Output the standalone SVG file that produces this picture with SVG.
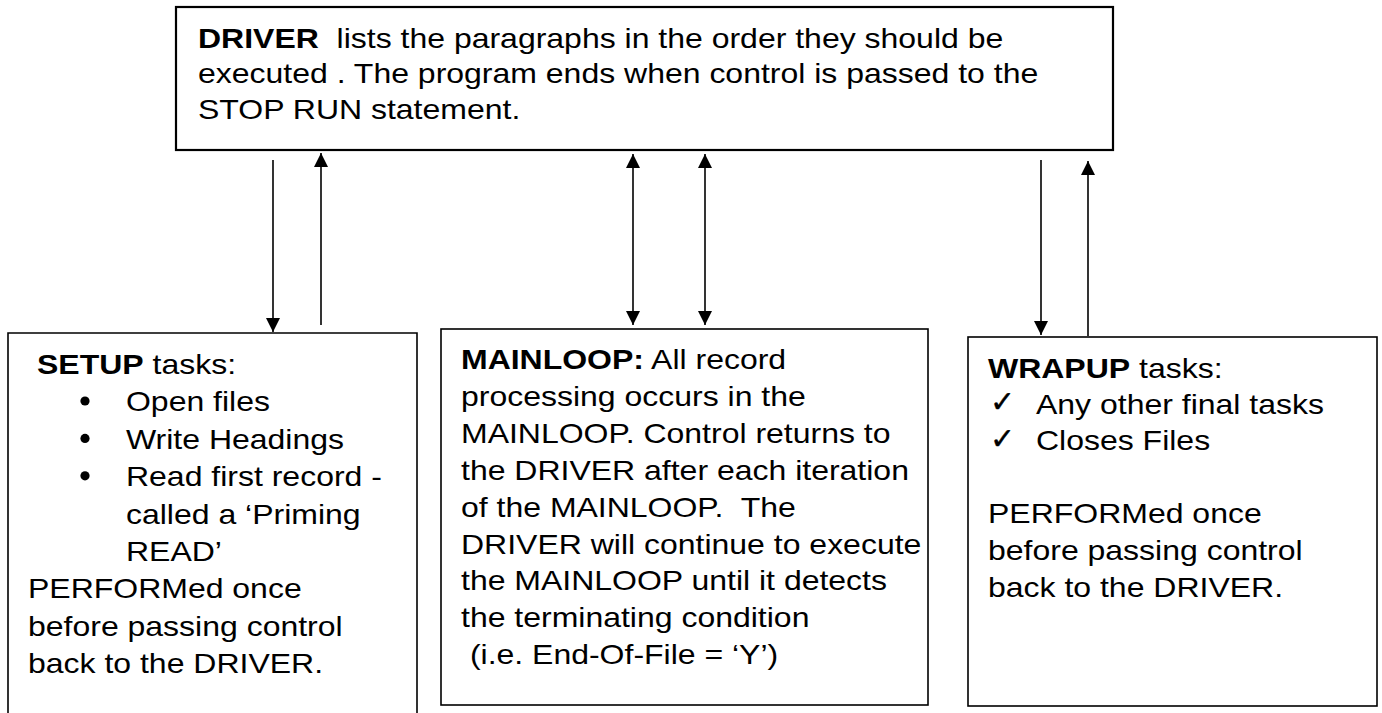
<svg xmlns="http://www.w3.org/2000/svg" width="1382" height="713" viewBox="0 0 1382 713">
  <style>
    .box { fill: #ffffff; stroke: #000000; stroke-width: 1.6; }
    .drv { stroke-width: 2.2; }
    .open { fill: none; stroke: #000000; stroke-width: 1.6; }
    .t { font-family: "Liberation Sans", Arial, sans-serif; font-size: 28px; fill: #000000; white-space: pre; }
    .b { font-weight: bold; }
    .chk { font-family: "DejaVu Sans", sans-serif; font-size: 30px; fill: #000000; stroke: #000000; stroke-width: 0.4; }
    .link { stroke: #000000; stroke-width: 1.6; fill: none; }
  </style>
  <defs>
    <marker id="head" viewBox="0 0 14 14" refX="14" refY="7" markerWidth="14" markerHeight="14" markerUnits="userSpaceOnUse" orient="auto-start-reverse">
      <path d="M0,0 L14,7 L0,14 Z" fill="#000000"/>
    </marker>
  </defs>
  <rect width="1382" height="713" fill="#ffffff"/>

  <!-- DRIVER paragraph; text uses a widened face (x scaled by 8/7) -->
  <g id="driver">
    <rect class="box drv" x="176" y="7" width="937" height="143"/>
    <g transform="scale(1.142857,1)">
      <text class="t" x="173.25" y="48"><tspan class="b">DRIVER</tspan>  lists the paragraphs in the order they should be</text>
      <text class="t" x="173.25" y="83.5">executed . The program ends when control is passed to the</text>
      <text class="t" x="173.25" y="119">STOP RUN statement.</text>
    </g>
  </g>

  <!-- SETUP paragraph (box runs off the bottom edge) -->
  <g id="setup">
    <path class="open" d="M8,713 V333 H417 V713"/>
    <circle cx="85" cy="401" r="4.6"/>
    <circle cx="85" cy="438.4" r="4.6"/>
    <circle cx="85" cy="475.8" r="4.6"/>
    <g transform="scale(1.142857,1)">
      <text class="t" x="32.375" y="374"><tspan class="b">SETUP</tspan> tasks:</text>
      <text class="t" x="110.25" y="411.4">Open files</text>
      <text class="t" x="110.25" y="448.8">Write Headings</text>
      <text class="t" x="110.25" y="486.2">Read first record -</text>
      <text class="t" x="110.25" y="523.6">called a ‘Priming</text>
      <text class="t" x="110.25" y="561">READ’</text>
      <text class="t" x="24.5" y="598.4">PERFORMed once</text>
      <text class="t" x="24.5" y="635.8">before passing control</text>
      <text class="t" x="24.5" y="673.2">back to the DRIVER.</text>
    </g>
  </g>

  <!-- MAINLOOP paragraph -->
  <g id="mainloop">
    <rect class="box" x="441" y="329" width="487" height="376"/>
    <g transform="scale(1.142857,1)">
      <text class="t" x="403.375" y="369"><tspan class="b">MAINLOOP:</tspan> All record</text>
      <text class="t" x="403.375" y="406">processing occurs in the</text>
      <text class="t" x="403.375" y="443">MAINLOOP. Control returns to</text>
      <text class="t" x="403.375" y="480">the DRIVER after each iteration</text>
      <text class="t" x="403.375" y="517">of the MAINLOOP.  The</text>
      <text class="t" x="403.375" y="554">DRIVER will continue to execute</text>
      <text class="t" x="403.375" y="590">the MAINLOOP until it detects</text>
      <text class="t" x="403.375" y="627">the terminating condition</text>
      <text class="t" x="403.375" y="664"> (i.e. End-Of-File = ‘Y’)</text>
    </g>
  </g>

  <!-- WRAPUP paragraph -->
  <g id="wrapup">
    <rect class="box" x="968" y="337" width="409" height="369"/>
    <text class="chk" x="990" y="412">✓</text>
    <text class="chk" x="990" y="448.5">✓</text>
    <g transform="scale(1.142857,1)">
      <text class="t" x="864.5" y="378"><tspan class="b">WRAPUP</tspan> tasks:</text>
      <text class="t" x="906.5" y="414">Any other final tasks</text>
      <text class="t" x="906.5" y="450.5">Closes Files</text>
      <text class="t" x="864.5" y="523">PERFORMed once</text>
      <text class="t" x="864.5" y="560">before passing control</text>
      <text class="t" x="864.5" y="597">back to the DRIVER.</text>
    </g>
  </g>

  <!-- control flow between DRIVER and the performed paragraphs -->
  <g id="connectors">
    <line class="link" x1="273" y1="160" x2="273" y2="332" marker-end="url(#head)"/>
    <line class="link" x1="321" y1="325" x2="321" y2="153" marker-end="url(#head)"/>
    <line class="link" x1="633" y1="154" x2="633" y2="325" marker-start="url(#head)" marker-end="url(#head)"/>
    <line class="link" x1="705" y1="154" x2="705" y2="325" marker-start="url(#head)" marker-end="url(#head)"/>
    <line class="link" x1="1041" y1="160" x2="1041" y2="335" marker-end="url(#head)"/>
    <line class="link" x1="1088" y1="336" x2="1088" y2="161" marker-end="url(#head)"/>
  </g>
</svg>
